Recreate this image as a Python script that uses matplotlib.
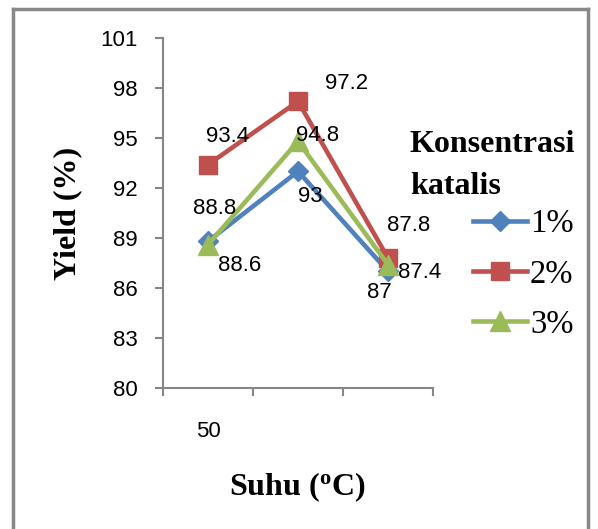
import matplotlib
matplotlib.use('Agg')
import matplotlib.pyplot as plt
from matplotlib.lines import Line2D
import numpy as np

# data
categories = ['50', '', '']
series_names = ['1%', '2%', '3%']
yield_1 = [88.8, 93.0, 87.0]
yield_2 = [93.4, 97.2, 87.8]
yield_3 = [88.6, 94.8, 87.4]

colors = ['#4F81BD', '#C0504D', '#9BBB59']
markers = ['D', 's', '^']
msizes = [10, 13, 14]
# label offsets in pixels (dx, dy) for each point
label_offsets = [
    [(7, 33), (12, -25), (-9, -21)],
    [(20, 28), (49, 18), (21, 33)],
    [(32, -21), (20, 6), (32, -8)],
]

plt.rcParams['mathtext.fontset'] = 'custom'
plt.rcParams['mathtext.rm'] = 'Liberation Serif'
plt.rcParams['mathtext.bf'] = 'Liberation Serif:bold'

W, H = 598, 529
fig = plt.figure(figsize=(W / 100, H / 100), dpi=100)
ax = fig.add_axes([163 / W, 1 - 388 / H, (433 - 163) / W, (388 - 38) / H])

sans = 'Liberation Sans'
serif = 'Liberation Serif'
axis_gray = '#868686'
tick_fs = 16
title_fs = 23

x = np.arange(len(categories))
all_series = [yield_1, yield_2, yield_3]
handles = []
for i, ys in enumerate(all_series):
    h, = ax.plot(x, ys, color=colors[i], lw=3.3, marker=markers[i],
                 ms=msizes[i], markeredgecolor=colors[i], label=series_names[i],
                 solid_joinstyle='round', zorder=3)
    handles.append(h)
    for j, v in enumerate(ys):
        dx, dy = label_offsets[i][j]
        ax.annotate('%g' % v, (x[j], v), xytext=(dx, dy), textcoords='offset pixels',
                    ha='center', va='center', fontsize=tick_fs, family=sans, zorder=4)

ax.set_xlim(-0.5, len(categories) - 0.5)
ax.set_ylim(80, 101)
ax.set_yticks(np.arange(80, 102, 3))
ax.set_xticks(np.arange(-0.5, len(categories)), labels=[])
ax.set_xticks(x, labels=categories, minor=True)
ax.tick_params(axis='x', which='minor', length=0, pad=24, labelsize=tick_fs)
ax.tick_params(axis='x', which='major', length=6, width=1.5, color=axis_gray, direction='out')
ax.tick_params(axis='y', length=6, width=1.5, color=axis_gray, labelsize=tick_fs, pad=12)
for lab in ax.get_xticklabels(minor=True) + ax.get_yticklabels():
    lab.set_family(sans)
for s in ['top', 'right']:
    ax.spines[s].set_visible(False)
for s in ['left', 'bottom']:
    ax.spines[s].set_color(axis_gray)
    ax.spines[s].set_linewidth(1.5)

# axis titles
fig.text(68 / W, 1 - 213 / H, 'Yield (%)', rotation=90, ha='center', va='center',
         fontsize=title_fs, family=serif, weight='bold')
fig.text(297 / W, 1 - 487 / H, r'Suhu ($\mathbf{^{o}}$C)', ha='center', va='center',
         fontsize=title_fs, family=serif, weight='bold')

# legend
fig.text(410 / W, 1 - 145 / H, 'Konsentrasi', ha='left', va='center',
         fontsize=title_fs, family=serif, weight='bold')
fig.text(410 / W, 1 - 187 / H, 'katalis', ha='left', va='center',
         fontsize=title_fs, family=serif, weight='bold')
fig.legend(handles=handles, loc='upper left', bbox_to_anchor=(473 / W, 1 - 209 / H),
           frameon=False, borderpad=0, borderaxespad=0, handlelength=1.66,
           handletextpad=0.09, labelspacing=0.6,
           prop={'family': serif, 'size': 23.5})

# outer chart border (no bottom edge visible)
bc = '#888888'
fig.add_artist(Line2D([13 / W, 13 / W], [0, 1 - 9 / H], color=bc, lw=2.5))
fig.add_artist(Line2D([13 / W, 588 / W], [1 - 9 / H, 1 - 9 / H], color=bc, lw=2.5))
fig.add_artist(Line2D([588 / W, 588 / W], [0, 1 - 9 / H], color=bc, lw=2.5))

fig.savefig('out.png', dpi=100)
